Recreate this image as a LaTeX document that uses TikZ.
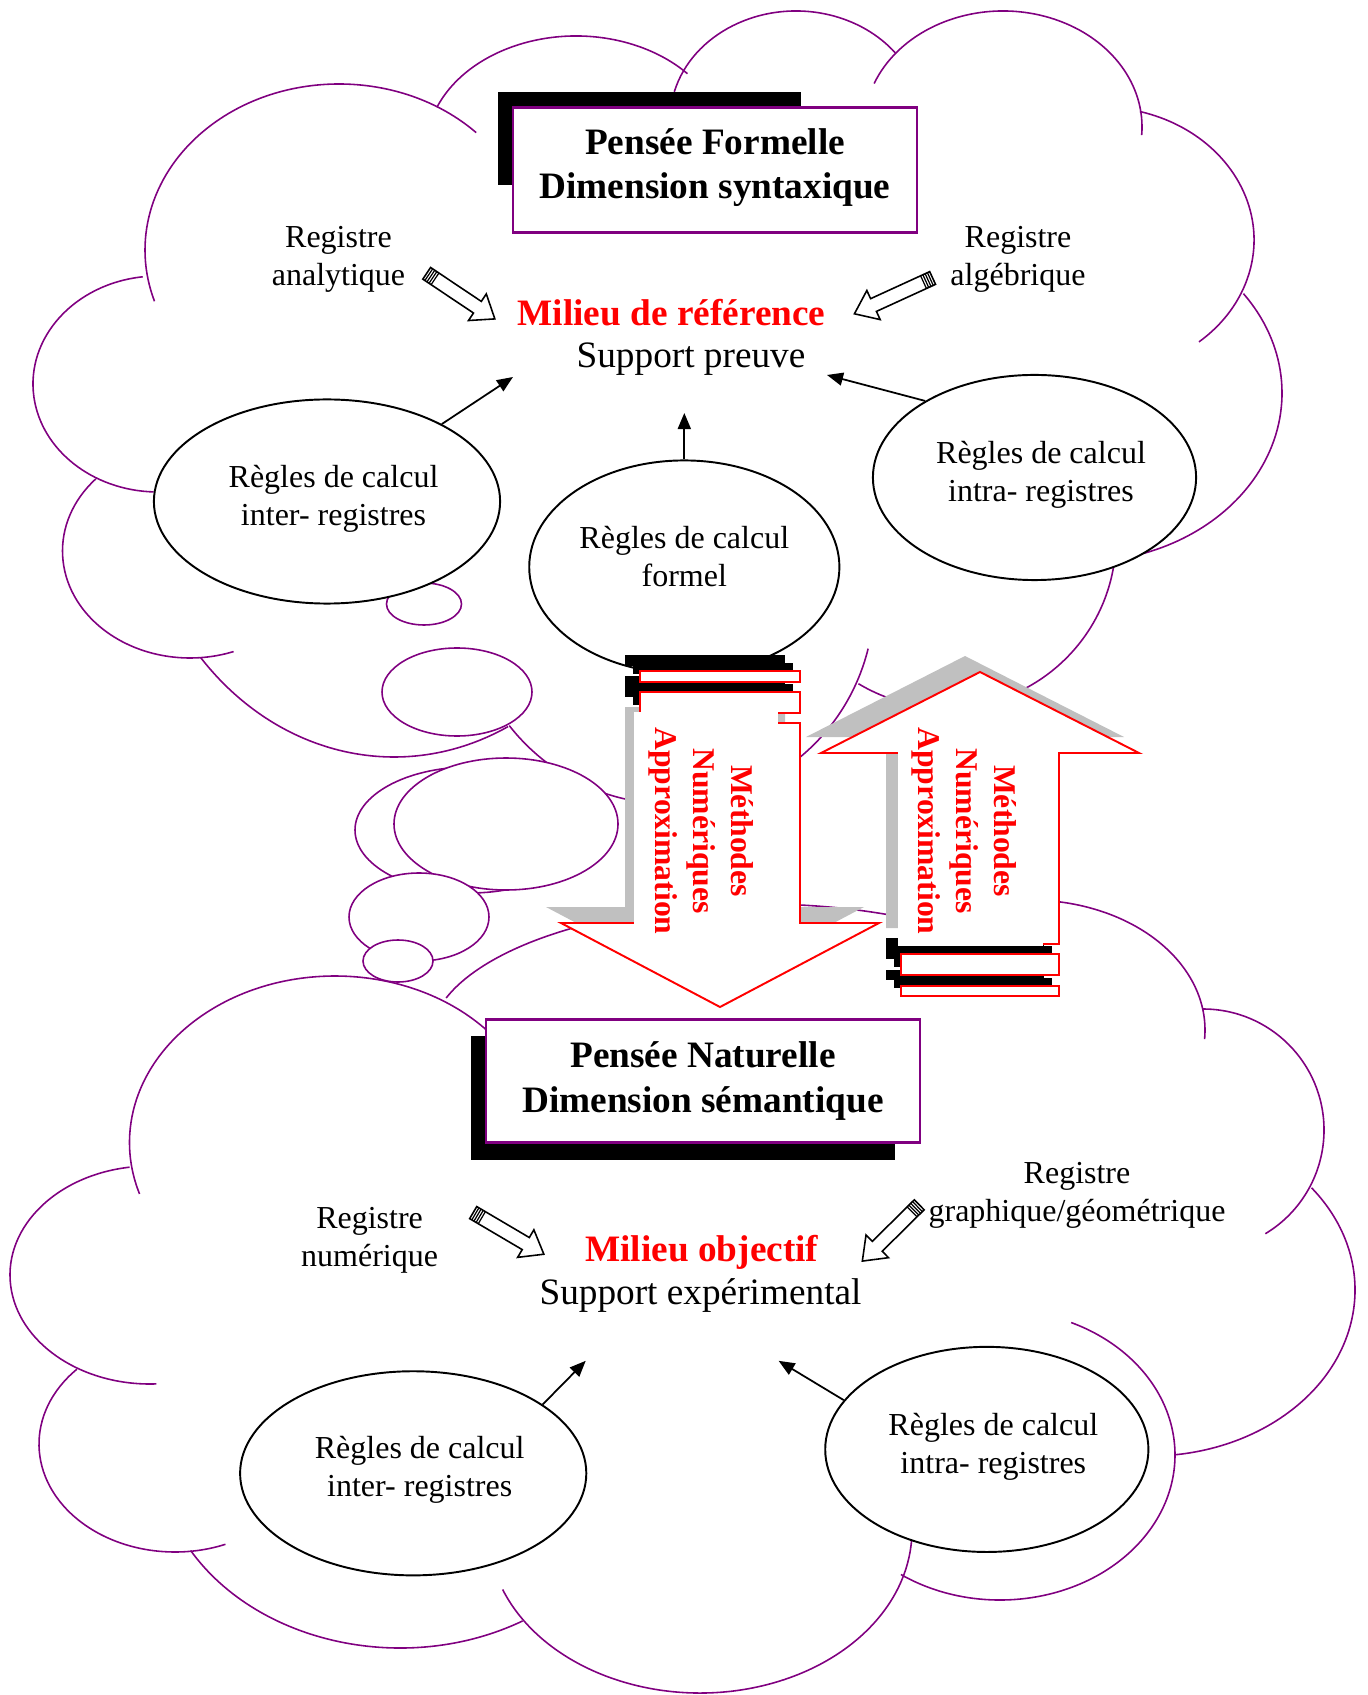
\documentclass[tikz,border=0pt]{standalone}
\usepackage{fontspec}
\setmainfont{Liberation Serif}
\usepackage{tikz}
\usetikzlibrary{shapes.geometric,arrows.meta}
\usepackage{xcolor}

\definecolor{cloudpurple}{RGB}{128,0,128}
\definecolor{shadowgray}{RGB}{192,192,192}
\newcommand{\bigtext}{\fontsize{10.6}{12.6}\selectfont}
\newcommand{\smalltext}{\fontsize{9.1}{10.8}\selectfont}
\newcommand{\vertext}{\fontsize{9}{10.8}\selectfont\bfseries}
% text of a rule ellipse, set a little right of the centre
\newcommand{\regtext}[2]{\hspace*{0.13cm}#1\\\hspace*{0.13cm}#2}

\tikzset{
  cloudline/.style={draw=cloudpurple, line width=0.45pt},
  bubble/.style={draw=cloudpurple, line width=0.45pt, fill=white},
  regle/.style={ellipse, draw, fill=white, line width=0.55pt, inner sep=0pt, text depth=0.13cm,
    align=center, font=\smalltext, minimum width=3.46cm, minimum height=2.04cm},
  titlebox/.style={draw=cloudpurple, line width=0.6pt, fill=white, inner sep=0pt,
    align=center, font=\bigtext\bfseries},
  registre/.style={align=center, inner sep=0pt, font=\smalltext},
  milieu/.style={anchor=base, inner sep=0pt, font=\bigtext\bfseries, text=red},
  support/.style={anchor=base, inner sep=0pt, font=\bigtext},
  link/.style={line width=0.5pt, -{Triangle[length=0.16cm, width=0.13cm]}},
  bigarrow/.style={draw=red, line width=0.55pt, fill=white},
  methodes/.style={rotate=-90, align=center, inner sep=0pt, text=red, font=\vertext},
  pics/penarrow/.style={code={
    \draw[line width=0.45pt, fill=white] (0,-7) -- (#1-21,-7) -- (#1-21,-16) -- (#1,0)
      -- (#1-21,16) -- (#1-21,7) -- (0,7) -- cycle;
    \foreach \s in {2.5,5,7.5,10}
      \draw[line width=0.35pt] (\s,-7) -- (\s,7);
  }}
}

\begin{document}
\begin{tikzpicture}[x=0.01cm, y=-0.01cm]
  \useasboundingbox (0,0) rectangle (1367,1695);

  % top cloud
  \foreach \cx/\cy/\rx/\ry/\a/\b in {339/250/194/166/-45/-198, 576/150/150/114/-158/-42,
      796/120/126/109/-165/-38, 1003/127/139/116/-158/4, 1100/240/154/133/-75/50,
      1080/393/202/169/-36/78, 946/538/170/170/5/121, 670/600/204/204/142/13.8,
      394/457/260/300/138/64, 190/551/127.5/107/222.4/70, 158/384/125/108/-97/-268}
    \draw[cloudline] (\cx,\cy) ++({\a}:{\rx} and {\ry})
      arc[start angle=\a, end angle=\b, x radius=\rx, y radius=\ry];

  % bottom cloud
  \foreach \cx/\cy/\rx/\ry/\a/\b in {335/1142.5/205.5/166.5/-42/-198, 760/1040/330/136/-162/-55,
      1030/1030/175/130/-120/4, 1203/1130/121/121/-90/59, 1150/1290/205/166/-38/83,
      1000/1455/175/145/124.5/-66, 700/1530/212/163/158.6/3.5, 400/1450/243/198/149.5/59.7,
      175/1444/136/108/223.8/68.2, 150/1275/140/109/261.6/87.4}
    \draw[cloudline] (\cx,\cy) ++({\a}:{\rx} and {\ry})
      arc[start angle=\a, end angle=\b, x radius=\rx, y radius=\ry];

  % bubbles
  \foreach \x/\y/\rx/\ry in {470/830/115/63, 506/824/112/66, 419/917/70/44,
      398/961/35/21, 424/604/37.5/21, 457/692/75/44}
    \draw[bubble] (\x,\y) ellipse [x radius=\rx, y radius=\ry];

  % Regles de calcul
  \node[regle] (interA) at (327,501.5) {\regtext{Règles de calcul}{inter- registres}};
  \node[regle, minimum width=3.1cm, minimum height=2.13cm, text depth=0.22cm] (formel) at (684.3,567) {Règles de calcul\\formel};
  \node[regle, minimum width=3.23cm, minimum height=2.05cm] (intraA) at (1034.5,477.5) {\regtext{Règles de calcul}{intra- registres}};
  \node[regle] (interB) at (413.2,1473.3) {\regtext{Règles de calcul}{inter- registres}};
  \node[regle, minimum width=3.23cm, minimum height=2.05cm] (intraB) at (986.8,1449.4) {\regtext{Règles de calcul}{intra- registres}};

  % titles
  \fill (498,92) rectangle (801,185);
  \node[titlebox, minimum width=4.03cm, minimum height=1.25cm, text depth=0.13cm] (formelle) at (715,170) {Pensée Formelle\\Dimension syntaxique};
  \fill (471,1036) rectangle (895,1160);
  \node[titlebox, minimum width=4.33cm, minimum height=1.23cm] (naturelle) at (703,1081) {Pensée Naturelle\\Dimension sémantique};

  % milieux
  \node[milieu] (milieuref) at (671.5,325.2) {Milieu de référence};
  \node[support] (preuve) at (691,367.8) {Support preuve};
  \node[milieu] (milieuobj) at (701.8,1261) {Milieu objectif};
  \node[support] (experimental) at (700.5,1304) {Support expérimental};

  % registres
  \node[registre] (analytique) at (338.5,259.7) {Registre\\analytique};
  \node[registre] (algebrique) at (1018,259.7) {Registre\\algébrique};
  \node[registre] (numerique) at (369.6,1240) {Registre\\numérique};
  \node[registre] (graphique) at (1077,1195.5) {Registre\\graphique/géométrique};

  % pen arrows
  \coordinate (penana) at (426.7,273.3);
  \coordinate (penalg) at (932.6,278);
  \coordinate (pennum) at (473.2,1212.6);
  \coordinate (pengeo) at (919.2,1204.8);
  \pic[rotate=-33.8] at (penana) {penarrow=82};
  \pic[rotate=-155.4] at (penalg) {penarrow=86};
  \pic[rotate=-30.5] at (pennum) {penarrow=82};
  \pic[rotate=-135.3] at (pengeo) {penarrow=80};

  % links
  \coordinate (tipinterA) at (513,377);
  \coordinate (tipformel) at (684.3,413);
  \coordinate (tipintraA) at (827,375);
  \coordinate (tipinterB) at (585.7,1360.8);
  \coordinate (tipintraB) at (778.6,1360.8);
  \draw[link] (interA.34) -- (tipinterA);
  \draw[link] (formel.north) -- (tipformel);
  \draw[link] (intraA.145) -- (tipintraA);
  \draw[link] (interB.28) -- (tipinterB);
  \draw[link] (intraB.161) -- (tipintraB);

  % down arrow
  \fill[shadowgray] (625,707) -- (785,707) -- (785,907) -- (864,907) -- (705,991) -- (546,907) -- (625,907) -- cycle;
  \fill (625,655) rectangle (785,666);
  \fill (633,663) rectangle (793,674);
  \fill (625,676) rectangle (785,697);
  \fill (633,684) rectangle (793,705);
  \draw[bigarrow] (640,671) rectangle (800,682);
  \draw[bigarrow] (640,692) rectangle (800,713);
  \draw[bigarrow] (640,723) -- (800,723) -- (800,923) -- (879,923) -- (720,1007) -- (561,923) -- (640,923) -- cycle;
  \fill[white] (634,712) rectangle (778,923.5);
  \node[methodes] (methdown) at (701,831) {Méthodes\\Numériques\\Approximation};

  % up arrow
  \fill[shadowgray] (965,656) -- (1124,737) -- (1044,737) -- (1044,928) -- (886,928) -- (886,737) -- (806,737) -- cycle;
  \fill (886,938) rectangle (1044,959);
  \fill (894,946) rectangle (1052,967);
  \fill (886,970) rectangle (1044,980);
  \fill (894,978) rectangle (1052,988);
  \draw[bigarrow] (901,954) rectangle (1059,975);
  \draw[bigarrow] (901,986) rectangle (1059,996);
  \draw[bigarrow] (980,672) -- (1139,753) -- (1059,753) -- (1059,944) -- (901,944) -- (901,753) -- (821,753) -- cycle;
  \fill[white] (898,752) rectangle (1042.5,945.5);
  \node[methodes] (methup) at (964,831) {Méthodes\\Numériques\\Approximation};
\end{tikzpicture}
\end{document}
